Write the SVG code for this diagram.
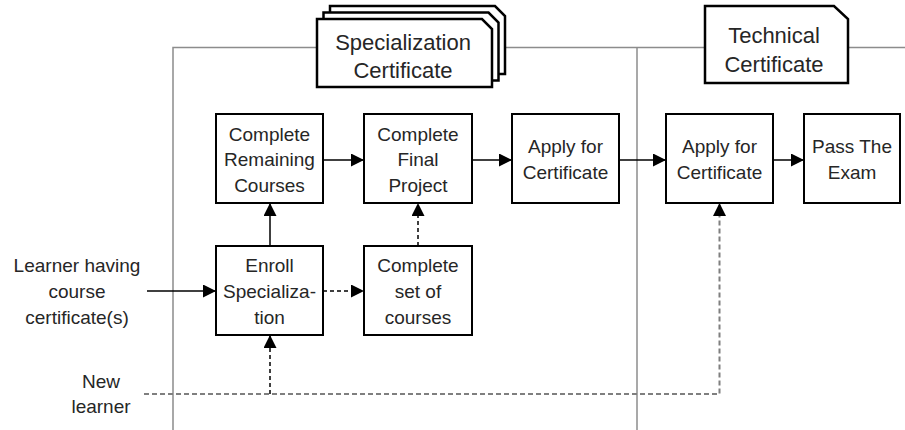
<svg xmlns="http://www.w3.org/2000/svg" width="905" height="430" viewBox="0 0 905 430">
  <style>
    .lane { stroke: #8c8c8c; stroke-width: 1.5; fill: none; }
    .box { fill: #ffffff; stroke: #000000; stroke-width: 2; }
    .cert { fill: #ffffff; stroke: #000000; stroke-width: 2.5; }
    .lbl { font-family: "Liberation Sans", Arial, sans-serif; font-size: 19px; fill: #262626; text-anchor: middle; }
    .clbl { font-family: "Liberation Sans", Arial, sans-serif; font-size: 22px; fill: #262626; text-anchor: middle; }
    .flow { stroke: #000000; stroke-width: 1.5; fill: none; }
    .dash { stroke: #000000; stroke-width: 1.5; fill: none; stroke-dasharray: 4 3; }
    .gdash { stroke: #7f7f7f; stroke-width: 2; fill: none; stroke-dasharray: 5 3; }
  </style>
  <defs>
    <marker id="arrow" markerUnits="userSpaceOnUse" markerWidth="14" markerHeight="14" refX="13" refY="6.5" orient="auto">
      <path d="M0,0 L13,6.5 L0,13 Z" fill="#000000"/>
    </marker>
  </defs>

  <rect width="905" height="430" fill="#ffffff"/>

  <!-- swimlane borders -->
  <g id="lanes">
    <path class="lane" d="M173,430 V47.5 H905"/>
    <path class="lane" d="M637,47.5 V430"/>
  </g>

  <!-- lane headers -->
  <g id="specialization-certificate">
    <path class="cert" d="M330,6 H495 L505,16 V74 H330 Z"/>
    <path class="cert" d="M323.5,12.5 H488.5 L498.5,22.5 V80.5 H323.5 Z"/>
    <path class="cert" d="M317,19 H482 L492,29 V87 H317 Z"/>
    <text class="clbl" x="403" y="50">Specialization</text>
    <text class="clbl" x="403" y="78">Certificate</text>
  </g>

  <g id="technical-certificate">
    <path class="cert" d="M705,6 H834 L848,19 V83 H705 Z"/>
    <text class="clbl" x="774" y="43">Technical</text>
    <text class="clbl" x="774" y="72">Certificate</text>
  </g>

  <!-- connectors -->
  <g id="connectors">
    <path class="flow" d="M147,291 H216" marker-end="url(#arrow)"/>
    <path class="flow" d="M270,246 V203" marker-end="url(#arrow)"/>
    <path class="flow" d="M323,160 H364" marker-end="url(#arrow)"/>
    <path class="flow" d="M472,160 H512" marker-end="url(#arrow)"/>
    <path class="flow" d="M619,160 H666" marker-end="url(#arrow)"/>
    <path class="flow" d="M773,160 H804" marker-end="url(#arrow)"/>
    <path class="dash" d="M323,291 H364" marker-end="url(#arrow)"/>
    <path class="dash" d="M418,246 V203" marker-end="url(#arrow)"/>
    <path class="gdash" d="M144,394 H719.5 V203"/>
    <path d="M719.5,216 V203" stroke="none" fill="none" marker-end="url(#arrow)"/>
    <path class="dash" d="M270,394 V335" marker-end="url(#arrow)"/>
  </g>

  <!-- process steps -->
  <g id="complete-remaining-courses">
    <rect class="box" x="216" y="114" width="107" height="89"/>
    <text class="lbl" x="269.5" y="140.5">Complete</text>
    <text class="lbl" x="269.5" y="166">Remaining</text>
    <text class="lbl" x="269.5" y="191.5">Courses</text>
  </g>

  <g id="complete-final-project">
    <rect class="box" x="364" y="114" width="108" height="89"/>
    <text class="lbl" x="418" y="140.5">Complete</text>
    <text class="lbl" x="418" y="166">Final</text>
    <text class="lbl" x="418" y="191.5">Project</text>
  </g>

  <g id="apply-specialization">
    <rect class="box" x="512" y="114" width="107" height="89"/>
    <text class="lbl" x="565.5" y="153">Apply for</text>
    <text class="lbl" x="565.5" y="179">Certificate</text>
  </g>

  <g id="apply-technical">
    <rect class="box" x="666" y="114" width="107" height="89"/>
    <text class="lbl" x="719.5" y="153">Apply for</text>
    <text class="lbl" x="719.5" y="179">Certificate</text>
  </g>

  <g id="pass-the-exam">
    <rect class="box" x="804" y="114" width="96" height="89"/>
    <text class="lbl" x="852" y="153">Pass The</text>
    <text class="lbl" x="852" y="179">Exam</text>
  </g>

  <g id="enroll-specialization">
    <rect class="box" x="216" y="246" width="107" height="89"/>
    <text class="lbl" x="269.5" y="272">Enroll</text>
    <text class="lbl" x="269.5" y="298">Specializa-</text>
    <text class="lbl" x="269.5" y="324">tion</text>
  </g>

  <g id="complete-set-of-courses">
    <rect class="box" x="364" y="246" width="108" height="89"/>
    <text class="lbl" x="418" y="272">Complete</text>
    <text class="lbl" x="418" y="298">set of</text>
    <text class="lbl" x="418" y="324">courses</text>
  </g>

  <!-- entry points -->
  <g id="learner-with-certificates">
    <text class="lbl" x="77" y="272">Learner having</text>
    <text class="lbl" x="77" y="298">course</text>
    <text class="lbl" x="77" y="324">certificate(s)</text>
  </g>

  <g id="new-learner">
    <text class="lbl" x="101" y="388">New</text>
    <text class="lbl" x="101" y="413">learner</text>
  </g>
</svg>
